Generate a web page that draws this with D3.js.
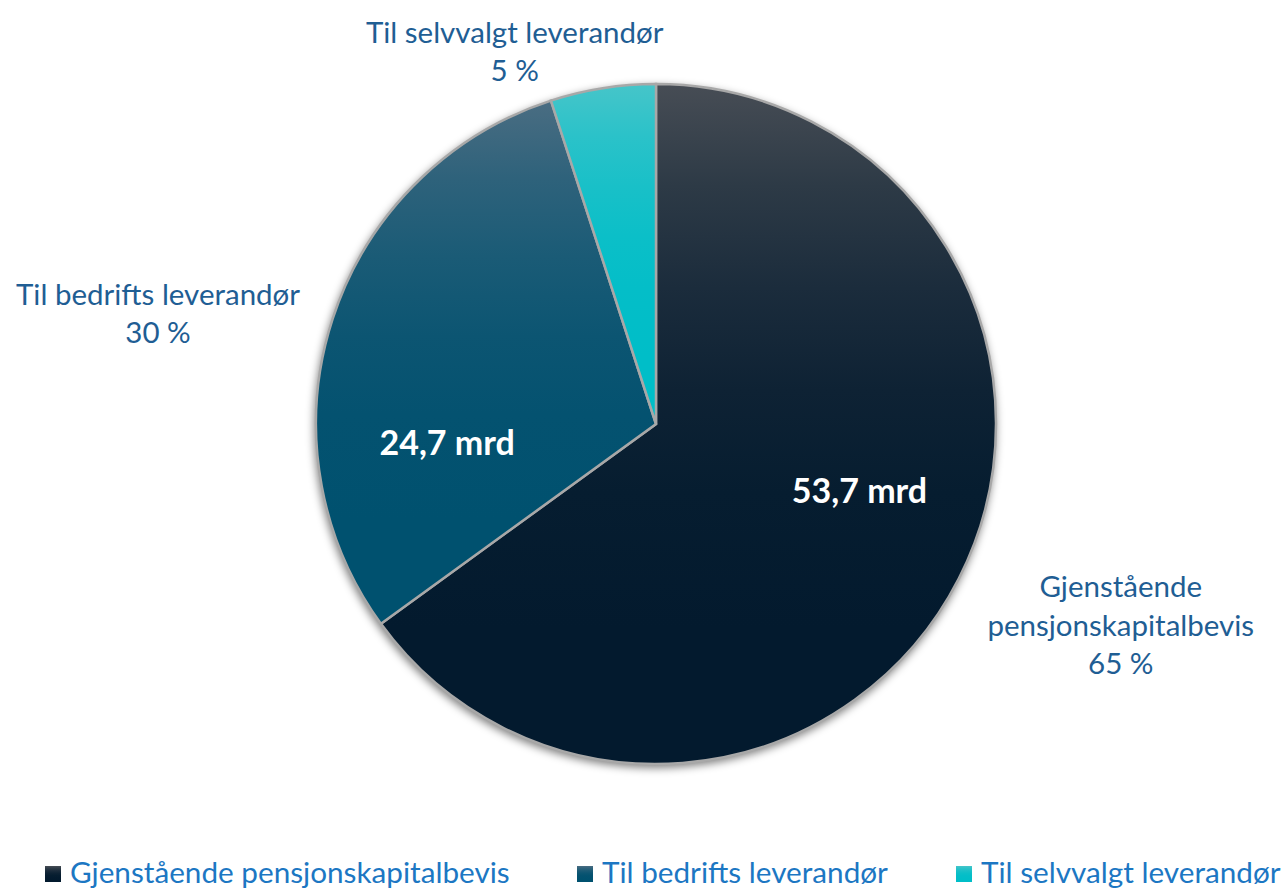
<!DOCTYPE html>
<html>
<head>
<meta charset="utf-8">
<script src="https://cdn.jsdelivr.net/npm/d3@7"></script>
<style>
  html, body { margin: 0; padding: 0; background: #fff; overflow: hidden; }
  svg { display: block; }
</style>
</head>
<body>
<div id="chart"></div>
<script>
// data
const categories = ["Gjenstående pensjonskapitalbevis", "Til bedrifts leverandør", "Til selvvalgt leverandør"];
const shares = [65, 30, 5];                  // percent
const amounts = ["53,7 mrd", "24,7 mrd", null];
const outerLabels = [
    ["Gjenstående", "pensjonskapitalbevis", "65 %"],
    ["Til bedrifts leverandør", "30 %"],
    ["Til selvvalgt leverandør", "5 %"]
];
const topColors = ["#474d55", "#4a6d82", "#46c5c9"];
const baseColors = ["#031a2e", "#00516f", "#00bec8"];

const width = 1284, height = 888;
const cx = 656, cy = 424, radius = 340;
const labelFont = "Lato, 'Open Sans', sans-serif";
const textBlue = "#1f5e94";
const legendBlue = "#1c77c3";

const svg = d3.select("#chart").append("svg")
    .attr("width", width).attr("height", height);

const defs = svg.append("defs");
// smooth ease-out from the light top to the base colour
const gradStops = [[0, 0], [0.15, 0.38], [0.3, 0.65], [0.45, 0.84], [0.6, 0.95], [0.8, 1], [1, 1]];
categories.forEach((c, i) => {
    const g = defs.append("linearGradient")
        .attr("id", "grad" + i)
        .attr("x1", 0).attr("y1", 0).attr("x2", 0).attr("y2", 1);
    const mix = d3.interpolateRgb(topColors[i], baseColors[i]);
    gradStops.forEach(([o, t]) => {
        g.append("stop").attr("offset", o).attr("stop-color", mix(t));
    });
});
defs.append("filter").attr("id", "shadow")
    .attr("x", "-10%").attr("y", "-10%").attr("width", "120%").attr("height", "120%")
    .append("feGaussianBlur").attr("stdDeviation", 4);

const pie = d3.pie().sort(null).value(d => d);
const arcs = pie(shares);
const arc = d3.arc().innerRadius(0).outerRadius(radius);

const g = svg.append("g").attr("transform", `translate(${cx},${cy})`);

// soft shadow under the pie
g.append("circle")
    .attr("cx", -1).attr("cy", 3).attr("r", radius + 1)
    .attr("fill", "#000").attr("fill-opacity", 0.5)
    .attr("filter", "url(#shadow)");

g.append("g")
    .selectAll("path")
    .data(arcs)
    .join("path")
    .attr("d", arc)
    .attr("fill", (d, i) => `url(#grad${i})`)
    .attr("stroke", "#a8a8a8")
    .attr("stroke-width", 2.5)
    .attr("stroke-linejoin", "miter");

// amount labels inside the slices (polar position: angle, radius fraction)
const innerPos = [[1.889, 0.63], [4.62, 0.617]];
arcs.forEach((d, i) => {
    if (!amounts[i]) return;
    const [a, f] = innerPos[i];
    g.append("text")
        .attr("x", Math.sin(a) * radius * f)
        .attr("y", -Math.cos(a) * radius * f + 12)
        .attr("text-anchor", "middle")
        .style("font-family", labelFont)
        .style("font-weight", "bold")
        .style("font-size", "34px")
        .style("fill", "#fff")
        .text(amounts[i]);
});

// outside category labels
const outerPos = [[1.98, 1.49], [4.93, 1.50], [5.92, 1.17]];
const lineH = 38.5;
arcs.forEach((d, i) => {
    const [a, f] = outerPos[i];
    const x = Math.sin(a) * radius * f;
    const y = -Math.cos(a) * radius * f;
    const lines = outerLabels[i];
    const t = g.append("text")
        .attr("text-anchor", "middle")
        .style("font-family", labelFont)
        .style("font-size", "29.5px")
        .style("fill", textBlue);
    lines.forEach((l, j) => {
        t.append("tspan")
            .attr("x", x)
            .attr("y", y + (j - (lines.length - 1) / 2) * lineH + 10)
            .text(l);
    });
});

// legend
const legendX = [45, 577, 956];
const legend = svg.append("g").attr("transform", "translate(0,883)");
categories.forEach((c, i) => {
    const item = legend.append("g").attr("transform", `translate(${legendX[i]},0)`);
    item.append("rect")
        .attr("x", 0).attr("y", -17)
        .attr("width", 16).attr("height", 16)
        .attr("fill", `url(#grad${i})`);
    item.append("text")
        .attr("x", 25).attr("y", 0)
        .style("font-family", labelFont)
        .style("font-size", "29.7px")
        .style("fill", legendBlue)
        .text(c);
});
</script>
</body>
</html>
